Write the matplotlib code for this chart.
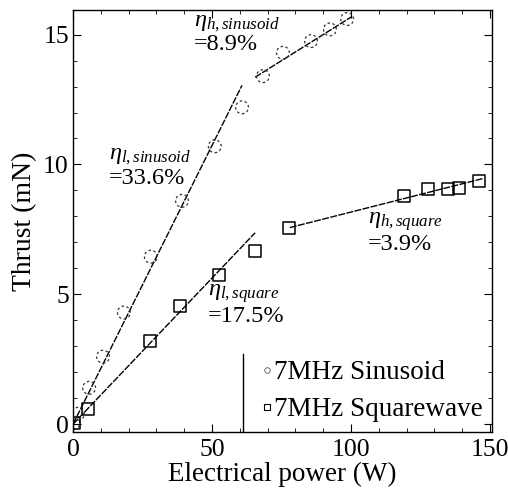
import matplotlib
matplotlib.use('Agg')
import matplotlib.pyplot as plt
from matplotlib.lines import Line2D
from matplotlib.ticker import MultipleLocator

plt.rcParams['font.family'] = 'Liberation Serif'
plt.rcParams['mathtext.fontset'] = 'custom'
plt.rcParams['mathtext.rm'] = 'Liberation Serif'
plt.rcParams['mathtext.it'] = 'Liberation Serif:italic'

# Data
sin_power = [0.2, 1.8, 5.8, 10.8, 18.3, 28.0, 39.2, 51.0, 60.8, 68.3, 75.5, 85.6, 92.4, 98.6]
sin_thrust = [0.05, 0.4, 1.4, 2.6, 4.3, 6.45, 8.6, 10.7, 12.2, 13.4, 14.3, 14.75, 15.2, 15.6]

sq_power = [0.5, 5.3, 27.7, 38.5, 52.5, 65.5, 77.7, 119.0, 127.7, 135.0, 139.0, 146.0]
sq_thrust = [0.05, 0.6, 3.2, 4.55, 5.75, 6.65, 7.57, 8.8, 9.07, 9.07, 9.1, 9.38]

# fit lines (end points)
fit_sin_low_x = [0.0, 60.8]
fit_sin_low_y = [0.0, 13.05]
fit_sin_high_x = [65.5, 100.4]
fit_sin_high_y = [13.36, 15.7]
fit_sq_low_x = [0.0, 65.5]
fit_sq_low_y = [0.0, 7.37]
fit_sq_high_x = [78.0, 147.5]
fit_sq_high_y = [7.57, 9.46]

labels = [r'$\eta_{h,sinusoid}$' + '\n=8.9%',
          r'$\eta_{l,sinusoid}$' + '\n=33.6%',
          r'$\eta_{h,square}$' + '\n=3.9%',
          r'$\eta_{l,square}$' + '\n=17.5%']
label_x = [43.5, 13.0, 106.0, 48.5]
label_y = [15.85, 10.72, 8.25, 5.45]

fig = plt.figure(figsize=(5.08, 4.92), dpi=100)
ax = fig.add_axes([0.1437, 0.122, 0.8248, 0.8578])

fit_style = dict(color='black', lw=1.0, ls=(0, (5, 1)))
ax.plot(fit_sin_low_x, fit_sin_low_y, **fit_style)
ax.plot(fit_sin_high_x, fit_sin_high_y, **fit_style)
ax.plot(fit_sq_low_x, fit_sq_low_y, **fit_style)
ax.plot(fit_sq_high_x, fit_sq_high_y, **fit_style)

ax.scatter(sin_power, sin_thrust, s=85, facecolors='none', edgecolors='#333333',
           linewidths=0.9, linestyles=(0, (2, 2)), zorder=3)
ax.scatter(sq_power, sq_thrust, s=75, marker='s', facecolors='none',
           edgecolors='black', linewidths=1.1, zorder=3)

for txt, x, y in zip(labels, label_x, label_y):
    ax.text(x, y, txt, fontsize=17.5, va='top', ha='left', linespacing=1.05)

ax.set_xlim(0, 150.7)
ax.set_ylim(-0.3, 15.95)
ax.xaxis.set_major_locator(MultipleLocator(50))
ax.xaxis.set_minor_locator(MultipleLocator(10))
ax.yaxis.set_major_locator(MultipleLocator(5))
ax.yaxis.set_minor_locator(MultipleLocator(1))
ax.tick_params(which='both', direction='in', top=True, right=True, labelsize=18.5)
ax.tick_params(which='major', length=6, width=0.8, pad=3)
ax.tick_params(axis='x', which='major', pad=5)
ax.tick_params(which='minor', length=3, width=0.6)
ax.set_xlabel('Electrical power (W)', fontsize=19.5, labelpad=1)
ax.set_ylabel('Thrust (mN)', fontsize=20, labelpad=4)
for sp in ax.spines.values():
    sp.set_linewidth(1.0)

handles = [Line2D([], [], ls='none', marker='o', ms=4, mfc='none', mec='#555555', mew=0.6),
           Line2D([], [], ls='none', marker='s', ms=4, mfc='none', mec='black', mew=0.8)]
leg = ax.legend(handles, ['7MHz Sinusoid', '7MHz Squarewave'], loc='lower right',
                bbox_to_anchor=(1.0, 0.0), fontsize=19.5, frameon=False,
                handlelength=0.3, handletextpad=0.1, borderpad=0.2,
                labelspacing=0.45, borderaxespad=0.15)
ax.add_line(Line2D([0.405, 0.405], [0.0, 0.185], transform=ax.transAxes,
                   color='black', lw=1.0))

fig.savefig('out.png', dpi=100)
